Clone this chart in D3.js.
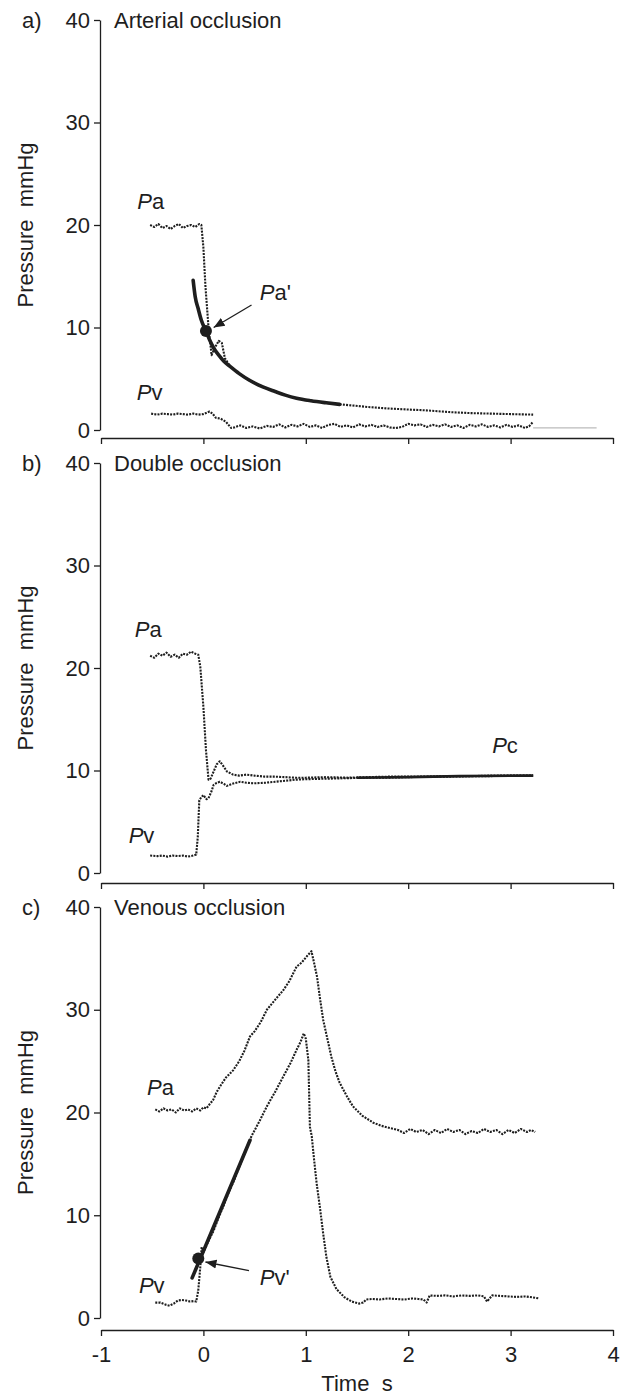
<!DOCTYPE html>
<html>
<head>
<meta charset="utf-8">
<script src="https://cdn.jsdelivr.net/npm/d3@7"></script>
<style>
  body { margin: 0; background: #fff; }
  svg { display: block; font-family: "Liberation Sans", Arial, sans-serif; }
</style>
</head>
<body>
<svg id="chart" width="622" height="1397"></svg>
<script>
// ---- data (time s, pressure mmHg) ----
const xTicks = [-1, 0, 1, 2, 3, 4];
const yTicks = [0, 10, 20, 30, 40];

// a) arterial occlusion
const arterialPa = [[-0.52,20.0],[-0.48,19.8],[-0.44,20.1],[-0.40,19.7],[-0.36,19.9],[-0.32,19.6],[-0.28,19.9],[-0.24,20.1],[-0.20,19.7],[-0.16,19.9],[-0.12,20.0],[-0.08,19.8],[-0.04,20.1],[-0.02,20.0],
  [0.00,17.8],[0.02,14.0],[0.05,10.0],[0.08,7.3],[0.11,8.0],[0.15,8.7],[0.18,8.5],[0.21,7.0],[0.26,6.2],[0.35,5.5],[0.45,4.85],[0.58,4.2],[0.70,3.75],[0.80,3.4],[0.91,3.1],[1.05,2.85],[1.20,2.65],[1.33,2.5],
  [1.45,2.4],[1.60,2.25],[1.80,2.1],[2.00,2.0],[2.20,1.9],[2.40,1.75],[2.60,1.65],[2.80,1.6],[3.00,1.55],[3.22,1.5]];
const arterialFit = [[-0.10,14.6],[-0.08,13.0],[-0.05,11.8],[-0.02,10.7],[0.025,9.66],[0.06,8.8],[0.10,8.0],[0.15,7.3],[0.20,6.7],[0.26,6.2],[0.35,5.5],[0.45,4.85],[0.58,4.2],[0.70,3.75],[0.80,3.4],[0.91,3.1],[1.05,2.85],[1.20,2.65],[1.33,2.5]];
const arterialPv = [[-0.51,1.6],[-0.45,1.5],[-0.40,1.6],[-0.35,1.55],[-0.30,1.5],[-0.25,1.6],[-0.20,1.55],[-0.15,1.5],[-0.10,1.6],[-0.05,1.5],[0.00,1.55],[0.06,1.8],[0.09,1.6],[0.12,1.2],[0.17,1.1],[0.22,0.8],[0.27,0.2],
  [0.30,0.25],[0.36,0.45],[0.42,0.2],[0.48,0.35],[0.55,0.15],[0.62,0.4],[0.68,0.3],[0.74,0.55],[0.80,0.25],[0.86,0.5],[0.92,0.35],[0.98,0.6],[1.04,0.3],[1.10,0.45],[1.16,0.2],[1.22,0.5],[1.28,0.6],[1.34,0.3],[1.40,0.45],[1.46,0.25],[1.52,0.55],[1.58,0.35],[1.64,0.5],[1.70,0.3],[1.76,0.45],[1.82,0.25],[1.88,0.2],[1.94,0.3],[2.00,0.6],[2.06,0.45],[2.12,0.55],[2.18,0.3],[2.24,0.5],[2.30,0.35],[2.36,0.55],[2.42,0.3],[2.48,0.45],[2.54,0.2],[2.60,0.5],[2.66,0.35],[2.72,0.55],[2.78,0.3],[2.84,0.45],[2.90,0.25],[2.96,0.5],[3.02,0.3],[3.08,0.45],[3.14,0.2],[3.18,0.35],[3.22,0.8]];
const arterialFaint = [[3.22,0.2],[3.84,0.2]];

// b) double occlusion
const doublePa = [[-0.52,21.2],[-0.48,21.0],[-0.44,21.4],[-0.40,21.2],[-0.36,21.5],[-0.32,21.1],[-0.28,21.3],[-0.24,21.0],[-0.20,21.4],[-0.16,21.3],[-0.12,21.6],[-0.08,21.4],[-0.05,21.3],[-0.03,20.1],
  [0.00,16.2],[0.025,12.0],[0.05,9.1],[0.07,9.2],[0.10,9.9],[0.13,10.6],[0.16,10.9],[0.19,10.5],[0.23,9.9],[0.29,9.6],[0.35,9.5],[0.42,9.6],[0.50,9.5],[0.60,9.4],[0.70,9.4],[0.80,9.35],[0.90,9.3],[1.00,9.3],[1.20,9.35],[1.40,9.3],[1.60,9.35],[1.80,9.4],[2.00,9.4],[2.20,9.4],[2.40,9.45],[2.60,9.45],[2.80,9.5],[3.00,9.5],[3.22,9.5]];
const doublePv = [[-0.52,1.7],[-0.45,1.65],[-0.40,1.7],[-0.35,1.6],[-0.30,1.7],[-0.25,1.65],[-0.20,1.7],[-0.15,1.6],[-0.10,1.7],[-0.07,1.8],[-0.055,3.5],[-0.04,7.1],[-0.02,7.4],[0.00,7.6],[0.03,7.2],[0.05,7.3],[0.08,8.0],[0.10,8.6],[0.13,8.8],[0.16,8.9],[0.20,8.7],[0.23,8.5],[0.28,8.7],[0.36,8.9],[0.42,8.8],[0.49,8.75],[0.60,8.8],[0.70,8.9],[0.80,9.0],[0.90,9.1],[1.00,9.15],[1.20,9.2],[1.40,9.25],[1.60,9.3],[1.80,9.3],[2.00,9.35],[2.20,9.4],[2.40,9.4],[2.60,9.45],[2.80,9.45],[3.00,9.5],[3.22,9.5]];
const doublePc = [[1.50,9.3],[2.00,9.35],[2.50,9.45],[3.22,9.5]];

// c) venous occlusion
const venousPa = [[-0.47,20.3],[-0.43,20.1],[-0.39,20.4],[-0.35,20.2],[-0.31,20.3],[-0.27,20.0],[-0.23,20.4],[-0.19,20.2],[-0.15,20.3],[-0.11,20.1],[-0.07,20.4],[-0.03,20.2],[0.00,20.5],[0.03,20.4],[0.06,20.8],[0.094,21.2],[0.13,22.0],[0.16,22.5],[0.22,23.4],[0.29,24.1],[0.35,25.0],[0.40,26.0],[0.455,27.4],[0.50,27.9],[0.56,28.8],[0.62,30.0],[0.67,30.6],[0.72,31.2],[0.78,31.9],[0.84,32.8],[0.91,34.2],[0.96,34.6],[1.01,35.2],[1.055,35.7],
  [1.08,34.6],[1.11,33.2],[1.14,31.0],[1.17,29.0],[1.21,27.2],[1.25,25.4],[1.29,24.0],[1.33,22.9],[1.40,21.6],[1.46,20.6],[1.55,19.7],[1.66,19.0],[1.74,18.7],[1.82,18.5],
  [1.90,18.3],[1.96,18.0],[2.02,18.4],[2.08,18.1],[2.14,18.3],[2.20,17.9],[2.26,18.3],[2.32,18.0],[2.38,18.4],[2.44,18.1],[2.50,18.3],[2.56,17.9],[2.62,18.2],[2.68,18.0],[2.74,18.4],[2.80,18.1],[2.86,18.3],[2.92,17.9],[2.98,18.3],[3.04,18.0],[3.10,18.4],[3.16,18.1],[3.20,18.3],[3.24,18.1]];
const venousPv = [[-0.47,1.5],[-0.42,1.5],[-0.37,1.3],[-0.33,1.2],[-0.29,1.4],[-0.25,1.7],[-0.21,1.75],[-0.17,1.7],[-0.13,1.6],[-0.09,1.65],[-0.07,1.6],[-0.05,2.7],[-0.03,5.0],[-0.017,6.9],
  [0.00,6.4],[0.05,7.5],[0.10,8.5],[0.15,9.8],[0.20,11.0],[0.25,12.3],[0.30,13.4],[0.35,14.7],[0.40,16.0],[0.47,17.7],[0.55,19.2],[0.62,20.6],[0.70,22.0],[0.78,23.5],[0.85,24.8],[0.91,26.1],[0.95,26.9],[0.98,27.7],
  [1.00,27.2],[1.025,25.1],[1.04,18.6],[1.058,17.7],[1.08,15.5],[1.106,13.1],[1.14,10.6],[1.17,8.2],[1.20,6.0],[1.24,4.0],[1.30,2.8],[1.38,2.0],[1.45,1.6],[1.52,1.4],[1.56,1.5],[1.59,1.8],
  [1.65,1.85],[1.72,1.8],[1.80,1.9],[1.88,1.85],[1.96,1.8],[2.04,1.9],[2.10,1.85],[2.15,1.8],[2.18,1.5],[2.21,2.2],[2.28,2.15],[2.36,2.2],[2.44,2.1],[2.52,2.2],[2.60,2.15],[2.68,2.2],[2.74,2.1],[2.77,1.6],[2.82,2.2],[2.90,2.15],[2.98,2.1],[3.06,2.05],[3.14,2.1],[3.22,2.0],[3.28,1.9]];
const venousFit = [[-0.11,3.9],[0.455,17.3]];

// ---- layout ----
const x = d3.scaleLinear().domain([-1, 4]).range([101, 613]);

const panels = [
  { letter: 'a)', title: 'Arterial occlusion', top: 20, bottom: 430, axisY: 438, showX: false,
    dotted: [arterialPa, arterialPv], solid: [arterialFit], thin: [], faint: [arterialFaint],
    dots: [[0.025, 9.66]],
    arrows: [{ from: [0.47, 12.2], to: [0.10, 10.0] }],
    labels: [{ t: -0.645, p: 21.6, sub: 'a' }, { t: -0.65, p: 2.9, sub: 'v' }, { t: 0.55, p: 12.7, sub: "a'" }] },
  { letter: 'b)', title: 'Double occlusion', top: 463, bottom: 873, axisY: 883, showX: false,
    dotted: [doublePa, doublePv], solid: [], thin: [doublePc], faint: [], dots: [], arrows: [],
    labels: [{ t: -0.67, p: 23.0, sub: 'a' }, { t: -0.73, p: 2.9, sub: 'v' }, { t: 2.82, p: 11.7, sub: 'c' }] },
  { letter: 'c)', title: 'Venous occlusion', top: 907, bottom: 1318, axisY: 1330, showX: true,
    dotted: [venousPa, venousPv], solid: [venousFit], thin: [], faint: [], dots: [[-0.05, 5.8]],
    arrows: [{ from: [0.445, 4.6], to: [0.02, 5.45] }],
    labels: [{ t: -0.55, p: 21.7, sub: 'a' }, { t: -0.63, p: 2.4, sub: 'v' }, { t: 0.55, p: 3.2, sub: "v'" }] }
];

const ink = '#1e1e1e';
const svg = d3.select('#chart');

svg.append('defs').append('marker')
  .attr('id', 'head')
  .attr('viewBox', '0 0 10 10')
  .attr('refX', 10).attr('refY', 5)
  .attr('markerWidth', 11).attr('markerHeight', 11)
  .attr('markerUnits', 'userSpaceOnUse')
  .attr('orient', 'auto')
  .append('path')
  .attr('d', 'M0,1 L10,5 L0,9 Z')
  .attr('fill', ink);

function styleAxis(a) {
  a.selectAll('path, line').attr('stroke', ink).attr('stroke-width', 1.3);
  a.selectAll('text').attr('fill', ink).style('font-size', '22px').attr('font-family', null);
}

panels.forEach((pn) => {
  const y = d3.scaleLinear().domain([0, 40]).range([pn.bottom, pn.top]);
  const g = svg.append('g');

  // y axis
  g.append('g')
    .attr('transform', 'translate(100,0)')
    .call(d3.axisLeft(y).tickValues(yTicks).tickSize(6).tickSizeOuter(0).tickPadding(4).tickFormat((d) => String(d)))
    .call(styleAxis);

  // x axis (detached below the y axis)
  const xAxis = d3.axisBottom(x).tickValues(xTicks).tickSize(6).tickSizeOuter(0).tickPadding(10)
    .tickFormat((d) => (pn.showX ? String(d) : ''));
  g.append('g')
    .attr('transform', `translate(0,${pn.axisY})`)
    .call(xAxis)
    .call(styleAxis);

  // panel letter and title
  g.append('text').attr('x', 22).attr('y', y(40) + 8).style('font-size', '22px').attr('fill', ink).text(pn.letter);
  g.append('text').attr('x', 114).attr('y', y(40) + 8).style('font-size', '22px').attr('fill', ink).text(pn.title);

  // y label
  g.append('text')
    .attr('transform', `translate(33,${(pn.top + pn.bottom) / 2}) rotate(-90)`)
    .attr('text-anchor', 'middle')
    .attr('xml:space', 'preserve')
    .style('font-size', '22px')
    .attr('fill', ink)
    .text('Pressure  mmHg');

  const line = d3.line().x((d) => x(d[0])).y((d) => y(d[1]));
  const smooth = d3.line().x((d) => x(d[0])).y((d) => y(d[1])).curve(d3.curveMonotoneX);

  pn.faint.forEach((s) => {
    g.append('path').attr('d', line(s)).attr('fill', 'none')
      .attr('stroke', '#bbb').attr('stroke-width', 1.2);
  });

  pn.dotted.forEach((s) => {
    g.append('path').attr('d', line(s)).attr('fill', 'none')
      .attr('stroke', ink).attr('stroke-width', 2.1)
      .attr('stroke-dasharray', '2,1.2')
      .attr('stroke-linejoin', 'round');
  });

  pn.thin.forEach((s) => {
    g.append('path').attr('d', line(s)).attr('fill', 'none')
      .attr('stroke', ink).attr('stroke-width', 2.6);
  });

  pn.solid.forEach((s) => {
    g.append('path').attr('d', smooth(s)).attr('fill', 'none')
      .attr('stroke', ink).attr('stroke-width', 3.6).attr('stroke-linecap', 'round');
  });

  pn.dots.forEach((d) => {
    g.append('circle').attr('cx', x(d[0])).attr('cy', y(d[1])).attr('r', 6).attr('fill', ink);
  });

  pn.arrows.forEach((a) => {
    g.append('line')
      .attr('x1', x(a.from[0])).attr('y1', y(a.from[1]))
      .attr('x2', x(a.to[0])).attr('y2', y(a.to[1]))
      .attr('stroke', ink).attr('stroke-width', 1.3)
      .attr('marker-end', 'url(#head)');
  });

  pn.labels.forEach((l) => {
    const t = g.append('text').attr('x', x(l.t)).attr('y', y(l.p))
      .style('font-size', '22px').attr('fill', ink);
    t.append('tspan').style('font-style', 'italic').text('P');
    t.append('tspan').text(l.sub);
  });
});

// x axis title
svg.append('text')
  .attr('x', (x(-1) + x(4)) / 2)
  .attr('y', 1391)
  .attr('text-anchor', 'middle')
  .attr('xml:space', 'preserve')
  .style('font-size', '22px')
  .attr('fill', ink)
  .text('Time  s');
</script>
</body>
</html>
